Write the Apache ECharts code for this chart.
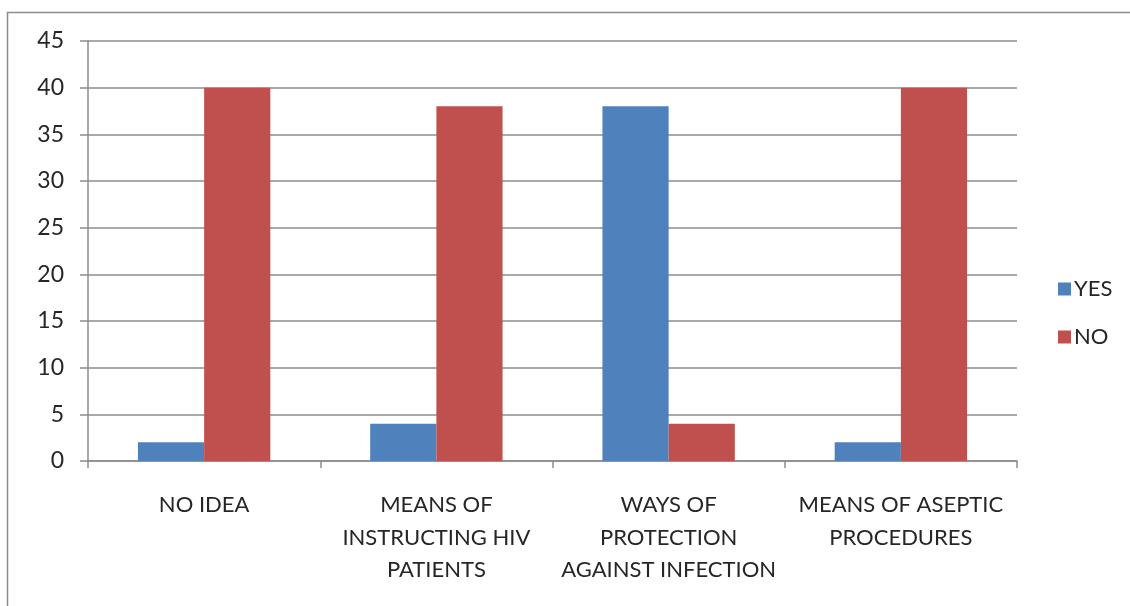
<!DOCTYPE html>
<html>
<head>
<meta charset="utf-8">
<script src="https://cdn.jsdelivr.net/npm/echarts@6/dist/echarts.min.js"></script>
<style>
  html, body { margin: 0; padding: 0; background: #fff; }
  #chart { width: 1130px; height: 606px; }
</style>
</head>
<body>
<div id="chart"></div>
<script>
// Survey responses per topic
const categories = [
  'NO IDEA',
  'MEANS OF\nINSTRUCTING HIV\nPATIENTS',
  'WAYS OF\nPROTECTION\nAGAINST INFECTION',
  'MEANS OF ASEPTIC\nPROCEDURES'
];
const yesValues = [2, 4, 38, 2];
const noValues = [40, 38, 4, 40];
const yTicks = { min: 0, max: 45, interval: 5 };

const font = 'Lato, "Open Sans", sans-serif';
const chart = echarts.init(document.getElementById('chart'), null, { renderer: 'canvas' });

chart.setOption({
  animation: false,
  backgroundColor: '#ffffff',
  textStyle: { fontFamily: font },
  graphic: [{
    type: 'rect',
    shape: { x: 7.5, y: 12.5, width: 1140, height: 610 },
    style: { fill: 'none', stroke: '#8c8c8c', lineWidth: 1.5 },
    silent: true
  }],
  grid: { left: 88, right: 113, top: 41, bottom: 145 },
  legend: {
    orient: 'vertical',
    left: 1053,
    top: 273,
    itemWidth: 13,
    itemHeight: 13,
    itemGap: 26,
    icon: 'rect',
    textStyle: { fontFamily: font, fontSize: 22, color: '#262626', padding: [0, 0, 0, -2] },
    data: ['YES', 'NO']
  },
  xAxis: {
    type: 'category',
    data: categories,
    axisLine: { show: true, lineStyle: { color: '#8c8c8c', width: 1.5 } },
    axisTick: { show: true, length: 7, alignWithLabel: false, lineStyle: { color: '#8c8c8c', width: 1.5 } },
    axisLabel: {
      interval: 0,
      margin: 28,
      fontFamily: font,
      fontSize: 22,
      lineHeight: 32.5,
      color: '#262626',
      align: 'center'
    },
    splitLine: { show: false }
  },
  yAxis: {
    type: 'value',
    min: yTicks.min,
    max: yTicks.max,
    interval: yTicks.interval,
    axisLine: { show: true, lineStyle: { color: '#8c8c8c', width: 1.5 } },
    axisTick: { show: true, length: 8, lineStyle: { color: '#8c8c8c', width: 1.5 } },
    axisLabel: { margin: 24, fontFamily: font, fontSize: 23, color: '#262626' },
    splitLine: { show: true, lineStyle: { color: '#8c8c8c', width: 1.5 } }
  },
  series: [
    {
      name: 'YES',
      type: 'bar',
      data: yesValues,
      barGap: '0%',
      barCategoryGap: '43%',
      itemStyle: { color: '#4F81BD' }
    },
    {
      name: 'NO',
      type: 'bar',
      data: noValues,
      barGap: '0%',
      barCategoryGap: '43%',
      itemStyle: { color: '#C0504D' }
    }
  ]
});
</script>
</body>
</html>
